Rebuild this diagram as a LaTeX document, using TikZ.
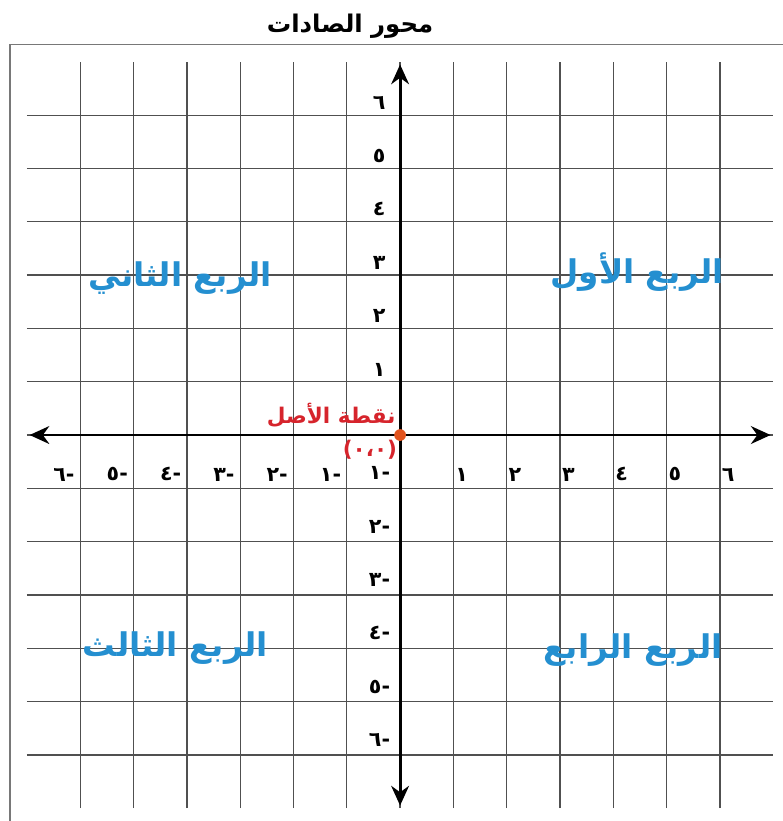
\documentclass[tikz,border=0pt]{standalone}
\usepackage{fontspec}
\newfontfamily\arabicfont[Script=Arabic]{DejaVu Sans}
\TeXXeTstate=1
\usetikzlibrary{arrows.meta}
\definecolor{quadblue}{RGB}{36,143,208}
\definecolor{originred}{RGB}{214,36,44}
\definecolor{dotorange}{RGB}{226,84,30}
\definecolor{gridgray}{RGB}{80,80,80}
\definecolor{framegray}{RGB}{120,120,120}
\newcommand{\rtltext}[1]{\beginR #1\endR}
\newcommand{\negnum}[1]{\mbox{#1}\mbox{-}}

\begin{document}
\begin{tikzpicture}[
    gridline/.style={gridgray,line width=0.7pt},
    axisline/.style={line width=1.5pt,{Stealth[length=10.5pt,width=9.5pt]}-{Stealth[length=10.5pt,width=9.5pt]}},
    ticklabel/.style={font=\arabicfont\fontsize{11}{13}\selectfont\bfseries,inner sep=0pt},
    quadlabel/.style={font=\arabicfont\fontsize{17.4}{20}\selectfont\bfseries,text=quadblue,inner sep=0pt},
    originlabel/.style={font=\arabicfont\fontsize{11.5}{14}\selectfont\bfseries,text=originred,inner sep=0pt}
]
    \useasboundingbox (-7.505,-7.24) rectangle (7.167,8.16);

    \coordinate (xmin) at (-6.95,0);
    \coordinate (xmax) at (6.95,0);
    \coordinate (ymin) at (0,-6.95);
    \coordinate (ymax) at (0,6.95);
    \coordinate (o) at (0,0);

    \draw[framegray,line width=0.8pt] (-7.32,-7.4) |- (7.4,7.33);

    \foreach \i in {-6,...,6} {
        \draw[gridline] (\i,-7) -- (\i,7);
        \draw[gridline] (-7,\i) -- (7,\i);
    }

    \draw[axisline] (xmin) -- (xmax);
    \draw[axisline] (ymin) -- (ymax);

    \node[font=\arabicfont\fontsize{13}{15}\selectfont\bfseries,inner sep=0pt] (title) at (-0.94,7.67) {\rtltext{محور الصادات}};

    \foreach \i/\d in {1/١,2/٢,3/٣,4/٤,5/٥,6/٦} {
        \node[ticklabel,anchor=south west] (xp\i) at (\i+0.03,-0.87) {\d};
        \node[ticklabel,anchor=south east] (xn\i) at (-\i-0.1,-0.87) {\negnum{\d}};
        \node[ticklabel,anchor=south east] (yp\i) at (-0.27,\i+0.1) {\d};
        \node[ticklabel,anchor=south east] (yn\i) at (-0.18,-\i+0.15) {\negnum{\d}};
    }

    \fill[dotorange] (o) circle (0.11);
    \node[originlabel,anchor=south east] (originname) at (-0.08,0.13) {\rtltext{نقطة الأصل}};
    \node[originlabel,anchor=north east] (originxy) at (-0.05,-0.09) {(٠،٠)};

    \node[quadlabel] (q1) at (4.45,3.05) {\rtltext{الربع الأول}};
    \node[quadlabel] (q2) at (-4.13,2.95) {\rtltext{الربع الثاني}};
    \node[quadlabel] (q3) at (-4.22,-4.0) {\rtltext{الربع الثالث}};
    \node[quadlabel] (q4) at (4.37,-4.03) {\rtltext{الربع الرابع}};
\end{tikzpicture}
\end{document}
